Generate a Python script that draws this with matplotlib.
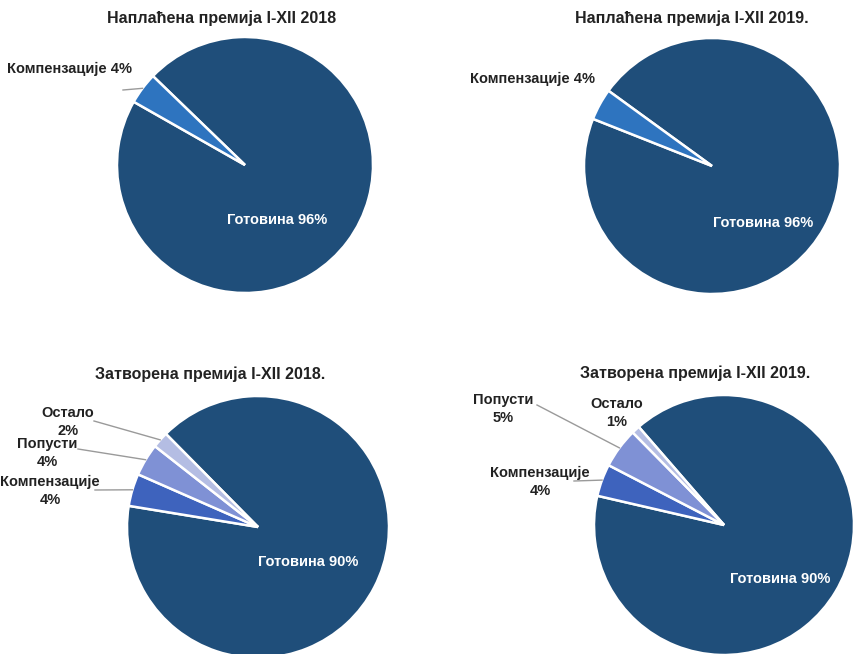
import numpy as np
import matplotlib
matplotlib.use("Agg")
import matplotlib.pyplot as plt
from matplotlib import font_manager

# ---- data ----
titles = ["Наплаћена премија I-XII 2018", "Наплаћена премија I-XII 2019.",
          "Затворена премија I-XII 2018.", "Затворена премија I-XII 2019."]
cats_top = ["Готовина", "Компензације"]
cats_bottom = ["Готовина", "Компензације", "Попусти", "Остало"]
vals_2018_napl = [96, 4]
vals_2019_napl = [96, 4]
vals_2018_zatv = [90, 4, 4, 2]
vals_2019_zatv = [90, 4, 5, 1]

# ---- style ----
W, H = 854, 654
names = {f.name for f in font_manager.fontManager.ttflist}
fam = ["Liberation Sans Narrow", "DejaVu Sans"] if "Liberation Sans Narrow" in names else ["Liberation Sans", "DejaVu Sans"]
plt.rcParams["font.family"] = fam

navy = "#1F4E7A"
top_colors = [navy, "#2E74BF"]
bot_colors = [navy, "#3E63BD", "#7F91D5", "#B4BDE3"]

fig = plt.figure(figsize=(W / 100, H / 100), dpi=100)
ax = fig.add_axes([0, 0, 1, 1])

def Y(y):
    return H - y

def draw(vals, colors, cx, cy, r, start):
    wedges, _ = ax.pie(vals, colors=colors, center=(cx, Y(cy)), radius=r,
                       startangle=start, counterclock=False,
                       wedgeprops=dict(edgecolor="white", linewidth=1.8))
    return wedges

def edge_point(w, frac=1.0):
    ang = np.deg2rad((w.theta1 + w.theta2) / 2)
    return (w.center[0] + w.r * frac * np.cos(ang), w.center[1] + w.r * frac * np.sin(ang))

lc = "#9a9a9a"
fs_lab = 10.5
fs_title = 11.5
ls = 1.3

# --- top-left ---
w = draw(vals_2018_napl, top_colors, 245, 165, 128, 136)
ax.text(222, Y(18), titles[0], ha="center", va="center", fontsize=fs_title, fontweight="bold", color="#222")
ax.text(70, Y(69), f"{cats_top[1]} {vals_2018_napl[1]}%", ha="center", va="center", fontsize=fs_lab, fontweight="bold", color="#222")
px, py = edge_point(w[1])
ax.plot([123, px], [Y(90), py], color=lc, lw=1)
ax.text(277, Y(220), f"{cats_top[0]} {vals_2018_napl[0]}%", ha="center", va="center", fontsize=fs_lab, fontweight="bold", color="white")

# --- top-right ---
w = draw(vals_2019_napl, top_colors, 712, 166, 128, 144)
ax.text(692, Y(18), titles[1], ha="center", va="center", fontsize=fs_title, fontweight="bold", color="#222")
ax.text(533, Y(79), f"{cats_top[1]} {vals_2019_napl[1]}%", ha="center", va="center", fontsize=fs_lab, fontweight="bold", color="#222")
ax.text(763, Y(223), f"{cats_top[0]} {vals_2019_napl[0]}%", ha="center", va="center", fontsize=fs_lab, fontweight="bold", color="white")

# --- bottom-left ---
w = draw(vals_2018_zatv, bot_colors, 258, 527, 131, 134.7)
ax.text(210, Y(374), titles[2], ha="center", va="center", fontsize=fs_title, fontweight="bold", color="#222")
labs = [(1, 50, 491, 95, 490), (2, 47, 453, 78, 449), (3, 68, 422, 94, 421)]
for i, x, y, lx, ly in labs:
    v = vals_2018_zatv[i]
    ax.text(x, Y(y), f"{cats_bottom[i]}\n{v}%", ha="center", va="center", fontsize=fs_lab, fontweight="bold", color="#222", linespacing=ls)
    px, py = edge_point(w[i])
    ax.plot([lx, px], [Y(ly), py], color=lc, lw=1)
ax.text(308, Y(562), f"{cats_bottom[0]} {vals_2018_zatv[0]}%", ha="center", va="center", fontsize=fs_lab, fontweight="bold", color="white")

# --- bottom-right ---
w = draw(vals_2019_zatv, bot_colors, 724, 525, 130, 131)
ax.text(695, Y(373), titles[3], ha="center", va="center", fontsize=fs_title, fontweight="bold", color="#222")
labs = [(1, 540, 482, 574, 481), (2, 503, 409, 537, 405), (3, 617, 413, None, None)]
for i, x, y, lx, ly in labs:
    v = vals_2019_zatv[i]
    ax.text(x, Y(y), f"{cats_bottom[i]}\n{v}%", ha="center", va="center", fontsize=fs_lab, fontweight="bold", color="#222", linespacing=ls)
    if lx is not None:
        px, py = edge_point(w[i])
        ax.plot([lx, px], [Y(ly), py], color=lc, lw=1)
ax.text(780, Y(579), f"{cats_bottom[0]} {vals_2019_zatv[0]}%", ha="center", va="center", fontsize=fs_lab, fontweight="bold", color="white")

ax.set_xlim(0, W)
ax.set_ylim(0, H)
ax.set_aspect("equal")
ax.axis("off")

fig.savefig("out.png", dpi=100, facecolor="white")
